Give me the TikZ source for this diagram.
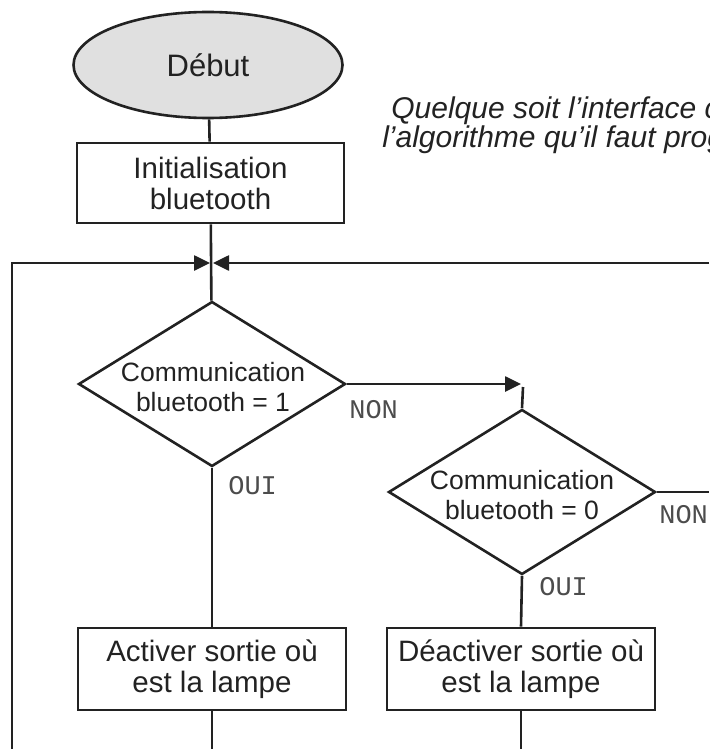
\documentclass[tikz,border=0pt]{standalone}
\usepackage{fontspec}
\setmainfont{Liberation Sans}
\newfontfamily\labmono{Liberation Mono}
\usetikzlibrary{shapes.geometric,arrows.meta}
\definecolor{termgray}{RGB}{224,224,224}
\definecolor{ink}{RGB}{34,34,34}
\begin{document}
\begin{tikzpicture}[x=1pt,y=-1pt,line width=2.6pt,draw=ink,
  boxtxt/.style={font=\fontsize{29.5}{31}\selectfont, text=ink, align=center},
  proc/.style={draw, rectangle, minimum width=267pt, minimum height=80pt, inner sep=0pt, boxtxt},
  term/.style={draw, ellipse, fill=termgray, minimum width=269pt, minimum height=106pt, inner sep=0pt, font=\fontsize{31}{34}\selectfont, text=ink},
  dec/.style={draw, diamond, minimum width=267pt, minimum height=165pt, inner sep=0pt},
  dectxt/.style={font=\fontsize{26.5}{30}\selectfont, align=center, text=ink, inner sep=0pt},
  lab/.style={font=\labmono\fontsize{27}{30}\selectfont, text=black!70, inner sep=0pt, anchor=base west},
  note/.style={font=\itshape\fontsize{30}{32}\selectfont, text=ink, inner sep=0pt, anchor=base west},
  arr/.style={-{Triangle[length=16pt,width=15pt]}}
]
\useasboundingbox (0,0) rectangle (709,749);
\clip (0,0) rectangle (709,749);

% nodes
\node[term] (debut) at (208,65) {Début};
\node[proc] (init) at (210.5,183) {Initialisation\\bluetooth};
\node[dec] (d1) at (212,384) {};
\node[dectxt] (d1t) at (213,387) {Communication\\bluetooth = 1};
\node[dec] (d2) at (522,492) {};
\node[dectxt] (d2t) at (522,495) {Communication\\bluetooth = 0};
\node[proc, minimum width=268pt, minimum height=82pt] (act) at (212,669) {Activer sortie où\\est la lampe};
\node[proc, minimum width=268pt, minimum height=82pt] (deact) at (521,669) {Déactiver sortie où\\est la lampe};

% labels
\node[lab] (oui1) at (227,494) {OUI};
\node[lab] (non1) at (348,418) {NON};
\node[lab] (oui2) at (538,595) {OUI};
\node[lab] (non2) at (658,523) {NON};

% note text (cut off at the right edge, as in the reference)
\node[note] (note1) at (390,119) {Quelque soit l’interface choisie, c’est};
\node[note] (note2) at (381,147) {l’algorithme qu’il faut programmer};

% coordinates
\coordinate (jl) at (210,263);
\coordinate (jr) at (213,263);
\coordinate (rin) at (709,263);
\coordinate (lbot) at (12,749);
\coordinate (ntip) at (521,384);
\coordinate (nv) at (523,387);
\coordinate (r2) at (709,492);
\coordinate (ab) at (212,749);
\coordinate (db) at (521,749);

% connectors
\draw (debut) -- (init);
\draw (init) -- (d1);
\draw[arr] (lbot) |- (jl);
\draw[arr] (rin) -- (jr);
\draw[arr] (d1.east) -- (ntip);
\draw (nv) -- (d2.north);
\draw (d2.east) -- (r2);
\draw (d1.south) -- (act.north);
\draw (d2.south) -- (deact.north);
\draw (act.south) -- (ab);
\draw (deact.south) -- (db);
\end{tikzpicture}
\end{document}
